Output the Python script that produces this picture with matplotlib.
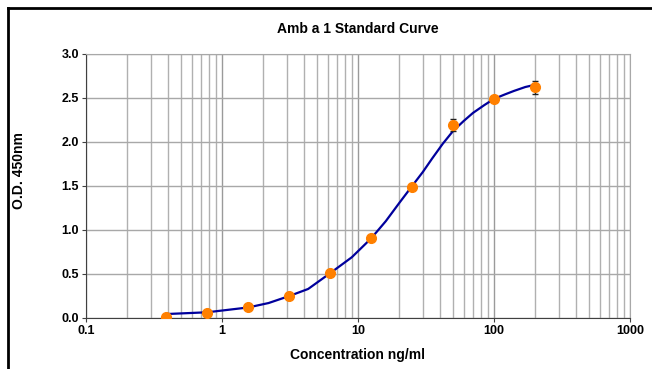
import matplotlib.pyplot as plt
from matplotlib.lines import Line2D
from matplotlib.ticker import LogLocator, FixedLocator

plt.rcParams['font.family'] = ['Liberation Sans', 'DejaVu Sans']

# Standards (ng/ml) and mean O.D.
conc = [0.39, 0.78, 1.56, 3.125, 6.25, 12.5, 25, 50, 100, 200]
od = [0.015, 0.053, 0.12, 0.245, 0.51, 0.905, 1.49, 2.19, 2.485, 2.62]
od_err = [0, 0, 0, 0, 0, 0, 0, 0.07, 0, 0.07]

# Fitted curve
curve_x = [0.39, 0.78, 1.56, 2.2, 3.125, 4.3, 6.25, 9.0, 12.5, 16, 20.4, 25,
           30, 35, 42, 50, 60, 70, 85, 100, 120, 140, 170, 200]
curve_y = [0.045, 0.065, 0.12, 0.17, 0.25, 0.33, 0.51, 0.69, 0.905, 1.10, 1.32, 1.50,
           1.66, 1.81, 1.98, 2.125, 2.24, 2.33, 2.42, 2.49, 2.54, 2.58, 2.625, 2.65]

yticks = [0.0, 0.5, 1.0, 1.5, 2.0, 2.5, 3.0]
xticks = [0.1, 1, 10, 100, 1000]
xticklabels = ['0.1', '1', '10', '100', '1000']

fig = plt.figure(figsize=(6.52, 3.69), dpi=100)
ax = fig.add_axes([86 / 652, 51 / 369, 544 / 652, 264 / 369])

ax.set_xscale('log')
ax.set_xlim(0.1, 1000)
ax.set_ylim(0, 3.0)

ax.xaxis.set_major_locator(FixedLocator(xticks))
ax.set_xticklabels(xticklabels)
ax.xaxis.set_minor_locator(LogLocator(base=10, subs=range(2, 10)))
ax.set_yticks(yticks)
ax.set_yticklabels(['%.1f' % v for v in yticks])

ax.grid(True, which='major', axis='x', color='#9a9a9a', lw=1)
ax.grid(True, which='minor', axis='x', color='#b0b0b0', lw=1)
ax.grid(True, which='major', axis='y', color='#a8a8a8', lw=1)
ax.set_axisbelow(True)

for s in ['top', 'right']:
    ax.spines[s].set_color('#a8a8a8')
for s in ['left', 'bottom']:
    ax.spines[s].set_color('#404040')

ax.tick_params(axis='both', which='major', length=3, color='#404040',
               labelsize=9, pad=2)
ax.tick_params(axis='x', which='minor', length=0)
for lab in ax.get_xticklabels() + ax.get_yticklabels():
    lab.set_fontweight('bold')

ax.plot(curve_x, curve_y, color='#00009c', lw=1.6, zorder=3)
ax.errorbar(conc, od, yerr=od_err, fmt='none', ecolor='#202020',
            elinewidth=1, capsize=2.5, capthick=1, zorder=4)
ax.plot(conc, od, 'o', color='#ff8000', markersize=7, zorder=5)

ax.set_title('Amb a 1 Standard Curve', fontsize=10, fontweight='bold', pad=15)
ax.set_xlabel('Concentration ng/ml', fontsize=10, fontweight='bold', labelpad=8)
ax.set_ylabel('O.D. 450nm', fontsize=10, fontweight='bold')
ax.yaxis.set_label_coords(-0.11, 0.56)

# partial frame around the chart
fig.add_artist(Line2D([8 / 652, 1], [1 - 8 / 369, 1 - 8 / 369], color='black', lw=2))
fig.add_artist(Line2D([8 / 652, 8 / 652], [0, 1 - 8 / 369], color='black', lw=2))

fig.savefig('out.png', dpi=100)
